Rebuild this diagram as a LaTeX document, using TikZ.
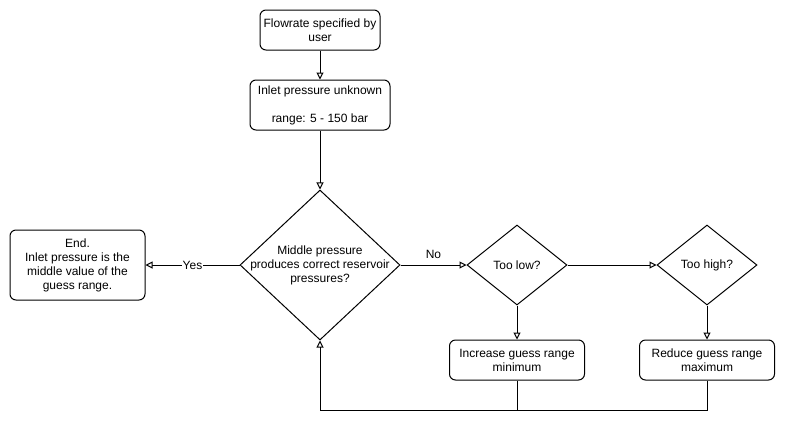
\documentclass[tikz,border=0pt]{standalone}
\usepackage{fontspec}
\setmainfont{Liberation Sans}
\usetikzlibrary{shapes.geometric,arrows.meta}

\begin{document}
\begin{tikzpicture}[x=0.75pt, y=-0.75pt, line width=0.75pt,
        font=\fontsize{9}{10.5}\selectfont,
        box/.style={draw, rounded corners=4.5pt, align=center, inner sep=0pt},
        decision/.style={diamond, draw, inner sep=0pt, label={[align=center]center:#1}},
        flow/.style={-{Triangle[open, length=5.25pt, width=5.25pt]}},
    ]
        \useasboundingbox (0,0) rectangle (785,429);
        \node[box, minimum width=90pt, minimum height=30pt] (user) at (320,30) {Flowrate specified by\\user};
        \node[box, minimum width=105pt, minimum height=37.5pt] (inlet) at (320,105) {Inlet pressure unknown\\[10.5pt]range: 5 - 150 bar};
        \node[decision={Middle pressure\\produces correct reservoir\\pressures?}, minimum width=120pt, minimum height=112.5pt] (check) at (320,265) {};
        \node[box, minimum width=101.25pt, minimum height=52.5pt] (finish) at (77.5,265) {End.\\Inlet pressure is the\\middle value of the\\guess range.};
        \node[decision={Too low?}, minimum width=75pt, minimum height=60pt] (low) at (517,265) {};
        \node[decision={Too high?}, minimum width=75pt, minimum height=60pt] (high) at (707,265) {};
        \node[box, minimum width=101.25pt, minimum height=30pt] (raise) at (517,360) {Increase guess range\\minimum};
        \node[box, minimum width=101.25pt, minimum height=30pt] (lower) at (707,360) {Reduce guess range\\maximum};
        \coordinate (join) at (517,410);

        \draw[flow] (user) -- (inlet);
        \draw[flow] (inlet) -- (check);
        \draw[flow] (check) -- node[fill=white, inner sep=0.5pt] {Yes} (finish);
        \draw[flow] (check) -- node[above=1pt] {No} (low);
        \draw[flow] (low) -- (high);
        \draw[flow] (low) -- (raise);
        \draw[flow] (high) -- (lower);
        \draw (lower) |- (join);
        \draw[flow] (raise) -- (join) -| (check);
\end{tikzpicture}
\end{document}
